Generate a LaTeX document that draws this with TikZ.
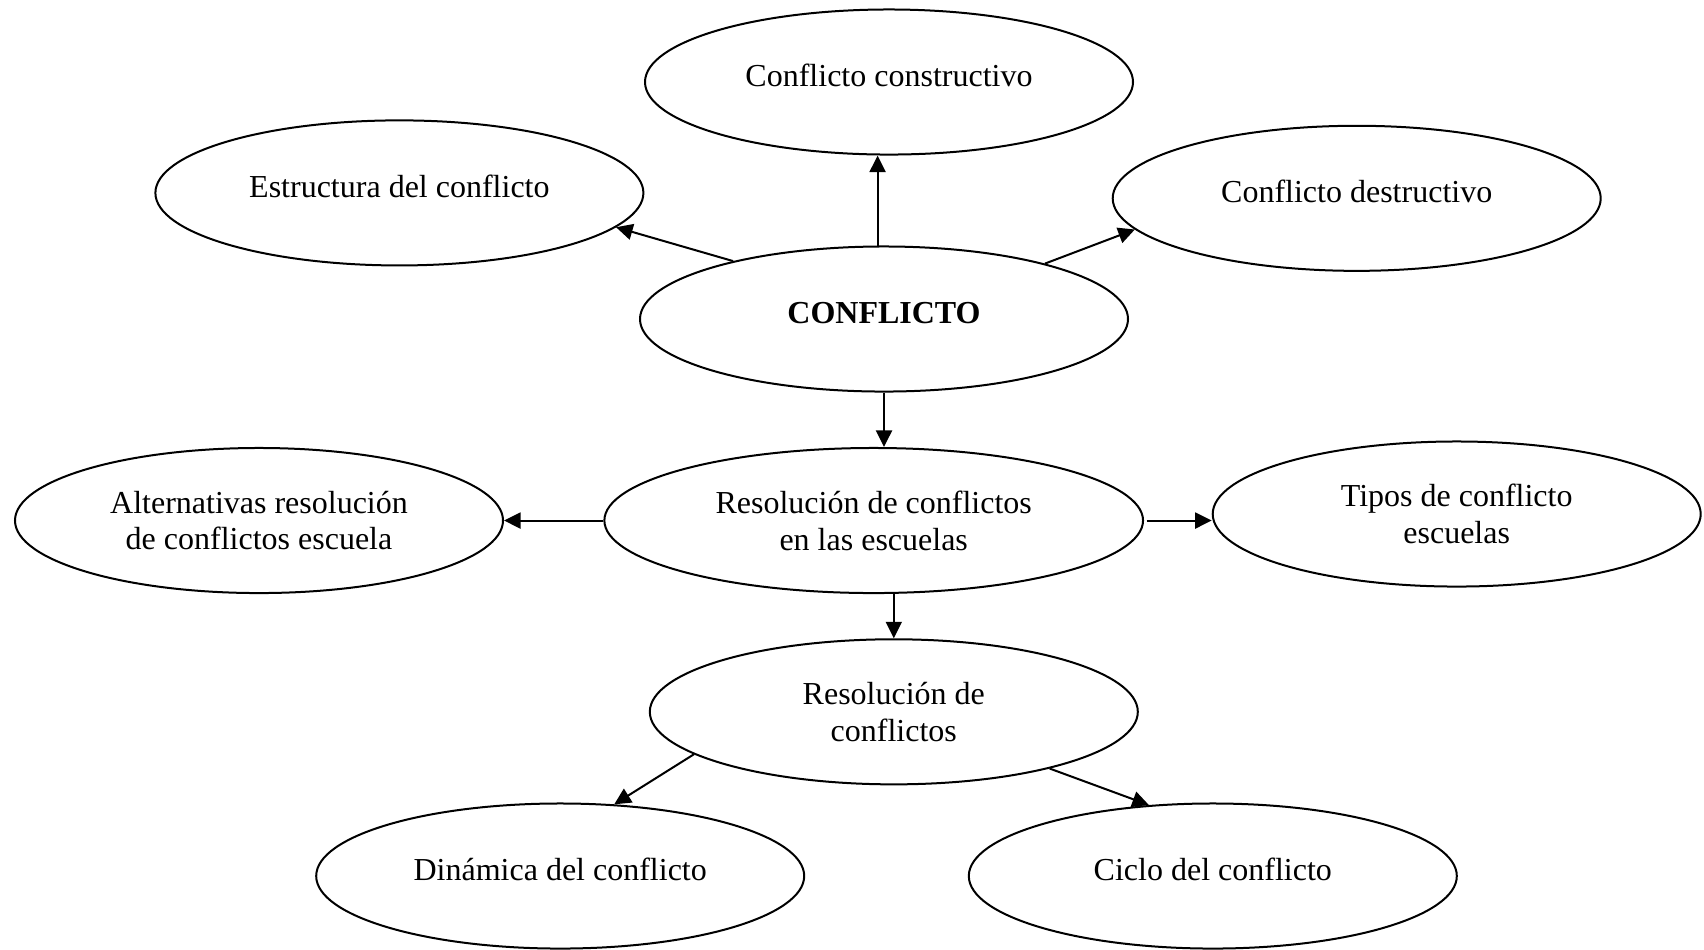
\documentclass[tikz,border=0pt]{standalone}
\usepackage{fontspec}
\setmainfont{Liberation Serif}
\usepackage{tikz}
\usetikzlibrary{arrows.meta}
\usetikzlibrary{shapes.geometric}
\tikzset{arrow/.style = {> = {Triangle[length = 6.2pt, width = 6pt]}}}
\tikzset{bubble/.style = {ellipse, draw=drawColor, line width= 0.75pt, inner sep=0pt, minimum width=183pt, minimum height=54.4pt, align=center, font=\fontsize{12}{13.8}\selectfont}}
\tikzset{oneLine/.style = {text height=8pt, text depth=4.5pt}}
\tikzset{link/.style = {arrow, ->, draw=drawColor, line width= 0.75pt}}

\begin{document}
\begin{tikzpicture}[x=0.375pt,y=-0.375pt]
\definecolor{fillColor}{RGB}{255,255,255}
\definecolor{drawColor}{RGB}{0,0,0}
\path[use as bounding box,fill=fillColor] (0,0) rectangle (1704,949);

% upper ring
\node[bubble, oneLine] (cons) at ( 889.0,  82.0) {Conflicto constructivo};
\node[bubble, oneLine] (estr) at ( 399.4, 192.9) {Estructura del conflicto};
\node[bubble, oneLine] (destr) at (1356.7, 198.3) {Conflicto destructivo};
\node[bubble, oneLine] (conf) at ( 884.0, 319.0) {\textbf{CONFLICTO}};

% middle row
\node[bubble, minimum width=202pt] (resEsc) at ( 873.7, 520.5) {Resolución de conflictos\\en las escuelas};
\node[bubble] (alt) at ( 259.0, 520.5) {Alternativas resolución\\de conflictos escuela};
\node[bubble] (tipos) at (1456.7, 514.0) {Tipos de conflicto\\escuelas};

% lower part
\node[bubble] (resConf) at ( 893.8, 711.8) {Resolución de\\conflictos};
\node[bubble, oneLine] (din) at ( 560.2, 876.0) {Dinámica del conflicto};
\node[bubble, oneLine] (ciclo) at (1212.8, 876.0) {Ciclo del conflicto};

\draw[link] (conf.159) -- (estr.-9);
\draw[link] (conf.95) -- (conf.95 |- cons.south);
\draw[link] (conf.19) -- (destr.188);
\draw[link] (conf.south) -- (conf.south |- resEsc.north);
\draw[link] (resEsc.west) -- (alt.east);
\draw[link] ([xshift=1pt]resEsc.east) -- (resEsc.east -| tipos.west);
\draw[link] (resEsc.south -| resConf.north) -- (resConf.north);
\draw[link] (resConf.192) -- (din.53);
\draw[link] (resConf.-20) -- (ciclo.132);
\end{tikzpicture}
\end{document}
